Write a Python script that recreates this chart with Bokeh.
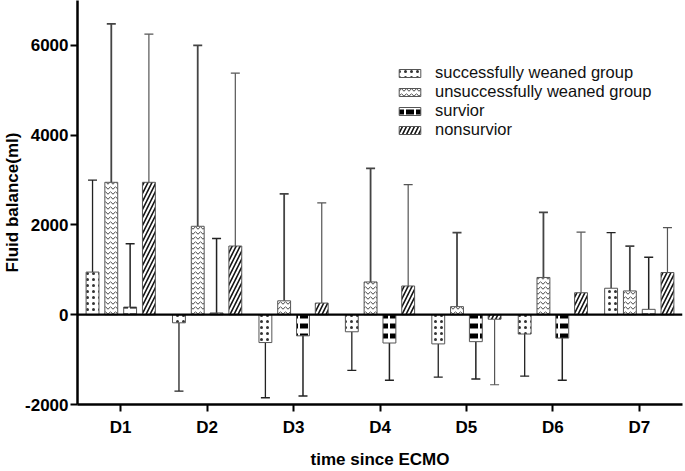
from bokeh.plotting import figure
from bokeh.models import (ColumnDataSource, FactorRange, Range1d, FixedTicker,
                          Span, Legend, LegendItem)
from bokeh.transform import dodge
from bokeh.embed import file_html
from bokeh.resources import INLINE

# data (mean and SD per day, ml)
days = ["D1", "D2", "D3", "D4", "D5", "D6", "D7"]
groups = ["successfully weaned group", "unsuccessfully weaned group",
          "survior", "nonsurvior"]

succ_mean = [950, -180, -620, -380, -650, -430, 590]
succ_sd = [2050, 1520, 1230, 860, 740, 940, 1240]
unsucc_mean = [2950, 1970, 310, 730, 180, 830, 530]
unsucc_sd = [3530, 4030, 2380, 2530, 1650, 1450, 1000]
surv_mean = [170, 40, -470, -630, -600, -520, 120]
surv_sd = [1410, 1660, 1340, 830, 830, 940, 1160]
nonsurv_mean = [2950, 1530, 260, 640, -100, 490, 940]
nonsurv_sd = [3300, 3850, 2230, 2260, 1460, 1350, 1000]

y_ticks = [-2000, 0, 2000, 4000, 6000]

means = [succ_mean, unsucc_mean, surv_mean, nonsurv_mean]
sds = [succ_sd, unsucc_sd, surv_sd, nonsurv_sd]

FONT = "Liberation Sans"

p = figure(x_range=FactorRange(*days), y_range=Range1d(-2000, 7000),
           width=685, height=471, output_backend="svg", toolbar_location=None,
           min_border_left=0, min_border_right=3, min_border_top=0,
           min_border_bottom=66)
p.grid.visible = False
p.outline_line_color = None

styles = [
    dict(hatch_pattern="dot", hatch_scale=6, hatch_weight=0.8, hatch_color="#333333"),
    dict(hatch_pattern="horizontal_wave", hatch_scale=5, hatch_weight=1, hatch_color="#444444"),
    dict(hatch_pattern="horizontal_dash", hatch_scale=10, hatch_weight=5, hatch_color="black"),
    dict(hatch_pattern="right_diagonal_line", hatch_scale=8, hatch_weight=1.6, hatch_color="#111111"),
]
err_style = [("#222222", 1.3), ("#444444", 1.8), ("#222222", 1.5), ("#555555", 1.2)]
offsets = [-0.326, -0.109, 0.109, 0.326]

items = []
for i, g in enumerate(groups):
    m = means[i]
    s = sds[i]
    end = [mm + (ss if mm >= 0 else -ss) for mm, ss in zip(m, s)]
    src = ColumnDataSource(dict(day=days, mean=m, end=end))
    x = dodge("day", offsets[i], range=p.x_range)
    col, lw = err_style[i]
    p.segment(x0=x, y0="mean", x1=x, y1="end", source=src, line_color=col, line_width=lw)
    p.scatter(x=x, y="end", source=src, marker="dash", size=9, line_color=col, line_width=lw)
    r = p.vbar(x=x, top="mean", bottom=0, width=0.149, source=src,
               fill_color="white", line_color="#555555", line_width=1, **styles[i])
    items.append(LegendItem(label=g, renderers=[r]))

p.add_layout(Span(location=0, dimension="width", line_color="black", line_width=2.2))

legend = Legend(items=items, location=(319, 265), padding=0, margin=0, spacing=0,
                label_height=18, glyph_height=10, glyph_width=27, label_standoff=12,
                border_line_color=None, background_fill_alpha=0,
                label_text_font=FONT, label_text_font_size="16.5px", label_text_color="#111111")
p.add_layout(legend)

for ax in (p.xaxis, p.yaxis):
    ax.axis_line_width = 2.5
    ax.axis_line_color = "black"
    ax.major_tick_line_width = 2
    ax.major_tick_out = 7
    ax.major_tick_in = 0
    ax.minor_tick_line_color = None
    ax.major_label_text_font = FONT
    ax.major_label_text_font_style = "bold"
    ax.major_label_text_font_size = "17px"
    ax.major_label_text_color = "black"
    ax.axis_label_text_font = FONT
    ax.axis_label_text_font_style = "bold"
    ax.axis_label_text_font_size = "17px"
    ax.axis_label_text_color = "black"

p.yaxis.ticker = FixedTicker(ticks=y_ticks)
p.yaxis.major_label_overrides = {t: str(t) for t in y_ticks}
p.yaxis.axis_label = "Fluid balance(ml)"
p.yaxis.major_label_standoff = 2
p.yaxis.axis_label_standoff = 0
p.xaxis.axis_label = "time since ECMO"
p.xaxis.major_label_standoff = 6
p.xaxis.axis_label_standoff = 10

open("out.html", "w").write(file_html(p, INLINE))
